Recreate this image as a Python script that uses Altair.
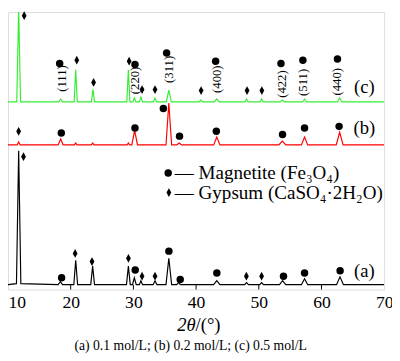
import altair as alt
import pandas as pd

# ---- data (2theta in degrees, intensity in arbitrary units) ----
offsets = {"a": 5, "b": 148, "c": 192}

a_theta = [10, 11.35, 11.7, 12.05, 18.0, 18.35, 18.7, 20.5, 20.8, 21.1, 23.2, 23.5, 23.8,
           28.9, 29.2, 29.5, 29.85, 30.15, 30.45, 30.95, 31.2, 31.45, 33.15, 33.45, 33.75,
           35.2, 35.65, 36.1, 36.9, 37.2, 37.5, 42.8, 43.3, 43.8, 47.75, 48.05, 48.35,
           50.15, 50.45, 50.75, 53.3, 53.8, 54.3, 56.8, 57.3, 57.8, 62.4, 62.95, 63.5, 70]
a_int = [0, 1, 137, 1, 0, 3, 0, 0, 25, 0, 0, 19, 0, 0, 19, 0, 0, 7, 0, 0, 4, 0, 0, 4, 0,
         0, 27, 0, 0, 2, 0, 0, 4, 0, 0, 2, 0, 0, 2, 0, 0, 4, 0, 0, 6, 0, 0, 8, 0, 0]

b_theta = [10, 11.45, 11.7, 11.95, 18.0, 18.4, 18.8, 20.6, 20.8, 21.0, 23.3, 23.5, 23.7,
           29.0, 29.2, 29.4, 29.75, 30.2, 30.65, 35.2, 35.65, 36.1, 36.9, 37.3, 37.7,
           42.8, 43.3, 43.8, 53.2, 53.75, 54.3, 56.8, 57.3, 57.8, 62.35, 62.9, 63.45, 70]
b_int = [0, 0, 3, 0, 0, 6, 0, 0, 2, 0, 0, 2, 0, 0, 2, 0, 0, 15, 0, 0, 43, 0, 0, 2, 0,
         0, 8, 0, 0, 4, 0, 0, 8, 0, 0, 13, 0, 0]

c_theta = [10, 11.4, 11.7, 12.0, 18.1, 18.4, 18.7, 20.55, 20.8, 21.05, 23.3, 23.55, 23.8,
           28.95, 29.2, 29.45, 29.9, 30.15, 30.4, 30.95, 31.2, 31.45, 33.2, 33.45, 33.7,
           35.25, 35.65, 36.05, 40.5, 40.75, 41.0, 42.9, 43.3, 43.7, 47.8, 48.05, 48.3,
           50.2, 50.45, 50.7, 53.4, 53.75, 54.1, 57.0, 57.3, 57.6, 62.55, 62.9, 63.25, 70]
c_int = [0, 0, 96, 0, 0, 3, 0, 0, 33, 0, 0, 13, 0, 0, 33, 0, 0, 4, 0, 0, 5, 0, 0, 4, 0,
         0, 12, 0, 0, 2, 0, 0, 3, 0, 0, 3, 0, 0, 3, 0, 0, 2, 0, 0, 3, 0, 0, 4, 0, 0]

# magnetite (circle) markers
mag_theta = [18.24, 30.25, 35.30, 43.12, 53.54, 57.03, 62.55,
             18.50, 30.25, 34.78, 37.36, 43.23, 53.79, 57.30, 62.81,
             18.55, 30.29, 35.66, 37.47, 43.31, 53.94, 57.30, 62.97,
             35.55]
mag_val = [231.3, 230.3, 242, 233.7, 231.3, 234.7, 236,
           160.3, 165.3, 185.3, 157, 162, 158.7, 165.3, 167,
           12, 20, 39.3, 10.3, 17, 13.7, 17, 19.3,
           119.3]

# gypsum (diamond) markers
gyp_theta = [12.58, 20.97, 23.65, 29.32, 31.38, 33.45, 40.80, 48.13, 50.49,
             11.70,
             12.47, 20.71, 23.40, 29.21, 31.38, 33.45, 48.02, 50.45,
             35.66]
gyp_val = [280.3, 234.7, 212, 233.7, 204.7, 204.7, 203.7, 203.7, 203.7,
           162,
           136, 37, 28.7, 32, 13.7, 13.7, 13.7, 13.7,
           99.3]

hkl_text = ["(111)", "(220)", "(311)", "(400)", "(422)", "(511)", "(440)"]
hkl_theta = [18.57, 30.25, 35.66, 43.28, 53.79, 57.03, 62.55]
hkl_val = [216, 214, 225.3, 215.3, 210.3, 212, 212.7]

sample_text = ["(a)", "(b)", "(c)"]
sample_theta = [66.84, 66.84, 66.84]
sample_val = [18.7, 165, 207]

legend_text = ["— Magnetite (Fe₃O₄)", "— Gypsum (CaSO₄·2H₂O)"]
legend_theta = [36.6, 36.6]
legend_val = [119, 99]

x_ticks = [10, 20, 30, 40, 50, 60, 70]
inner_ticks = [20, 30, 40, 50, 60]

FONT = "Liberation Serif"
W, H = 385, 284

rows = []
for s, th, it in (("a", a_theta, a_int), ("b", b_theta, b_int), ("c", c_theta, c_int)):
    for t, i in zip(th, it):
        rows.append({"theta": t, "val": offsets[s] + i, "series": s})
lines_df = pd.DataFrame(rows)

xenc = alt.X("theta:Q", scale=alt.Scale(domain=[10, 70], nice=False, zero=False),
             axis=alt.Axis(values=x_ticks, ticks=False, domain=False, grid=False,
                           labelFont=FONT, labelFontSize=18, labelColor="black",
                           labelPadding=4, labelFlush=False, title=None,
                           labelAlign={"condition": {"test": "datum.value <= 10", "value": "left"},
                                       "value": "center"}))
yenc = alt.Y("val:Q", scale=alt.Scale(domain=[0, 284], nice=False, zero=False), axis=None)

lines = alt.Chart(lines_df).mark_line(strokeWidth=1.2, clip=True).encode(
    x=xenc, y=yenc,
    color=alt.Color("series:N", scale=alt.Scale(domain=["a", "b", "c"],
                                                range=["#000000", "#ff0000", "#33ee33"]),
                    legend=None),
)

circles = alt.Chart(pd.DataFrame({"theta": mag_theta, "val": mag_val})).mark_point(
    shape="circle", filled=True, color="black", size=58, opacity=1).encode(x=xenc, y=yenc)

diamonds = alt.Chart(pd.DataFrame({"theta": gyp_theta, "val": gyp_val})).mark_point(
    shape="M0,-1L0.55,0L0,1L-0.55,0Z", filled=True, color="black", size=80, opacity=1
).encode(x=xenc, y=yenc)

hkl = alt.Chart(pd.DataFrame({"theta": hkl_theta, "val": hkl_val, "t": hkl_text})).mark_text(
    angle=270, font=FONT, fontSize=13, color="black", align="center", baseline="middle"
).encode(x=xenc, y=yenc, text="t:N")

samples = alt.Chart(pd.DataFrame({"theta": sample_theta, "val": sample_val, "t": sample_text})).mark_text(
    font=FONT, fontSize=19, color="black", align="center", baseline="middle"
).encode(x=xenc, y=yenc, text="t:N")

legend = alt.Chart(pd.DataFrame({"theta": legend_theta, "val": legend_val, "t": legend_text})).mark_text(
    font=FONT, fontSize=19.5, color="black", align="left", baseline="middle"
).encode(x=xenc, y=yenc, text="t:N")

ticks = alt.Chart(pd.DataFrame({"theta": inner_ticks})).mark_rule(color="black", strokeWidth=1).encode(
    x=xenc, y=alt.value(H), y2=alt.value(H - 5))

title1 = alt.Chart(pd.DataFrame({"t": ["2θ"]})).mark_text(
    font=FONT, fontSize=19, fontStyle="italic", color="black", align="right", baseline="middle"
).encode(x=alt.value(192), y=alt.value(320), text="t:N")
title2 = alt.Chart(pd.DataFrame({"t": ["/(°)"]})).mark_text(
    font=FONT, fontSize=19, color="black", align="left", baseline="middle"
).encode(x=alt.value(192), y=alt.value(320), text="t:N")
caption = alt.Chart(pd.DataFrame({"t": ["(a) 0.1 mol/L; (b) 0.2 mol/L; (c) 0.5 mol/L"]})).mark_text(
    font=FONT, fontSize=14, color="black", align="center", baseline="middle"
).encode(x=alt.value(187), y=alt.value(342), text="t:N")

chart = alt.layer(lines, ticks, circles, diamonds, hkl, samples, legend, title1, title2, caption).properties(
    width=W, height=H, autosize="none",
    padding={"left": 0, "top": 0, "right": 8, "bottom": 70},
).configure_view(stroke="black", strokeWidth=1).configure(background="white")

chart.save("out.html", embed_options={"renderer": "svg", "actions": False})
